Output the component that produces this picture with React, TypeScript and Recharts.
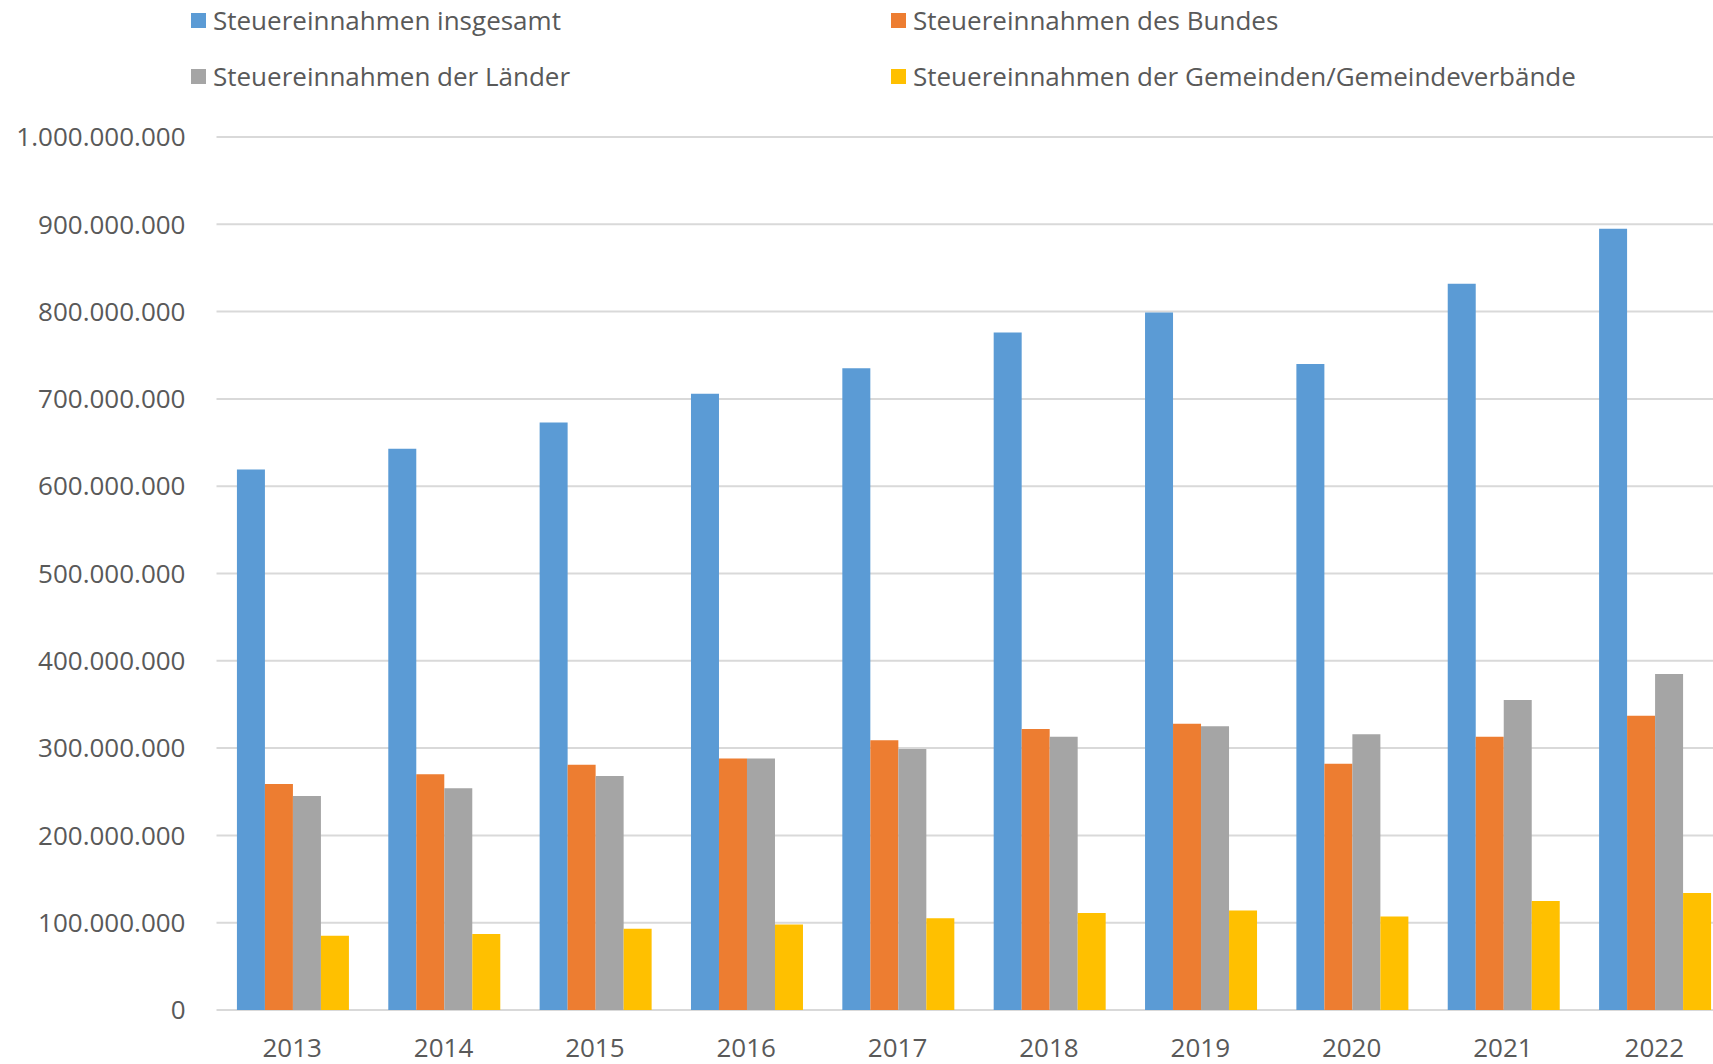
import { BarChart, Bar, XAxis, YAxis, CartesianGrid, Legend } from "recharts";

// Jahre und Steuereinnahmen (in Tsd. Euro)
const years = ["2013", "2014", "2015", "2016", "2017", "2018", "2019", "2020", "2021", "2022"];
const insgesamt = [619e6, 643e6, 673e6, 706e6, 735e6, 776e6, 799e6, 740e6, 832e6, 895e6];
const bund = [259e6, 270e6, 281e6, 288e6, 309e6, 322e6, 328e6, 282e6, 313e6, 337e6];
const laender = [245e6, 254e6, 268e6, 288e6, 299e6, 313e6, 325e6, 316e6, 355e6, 385e6];
const gemeinden = [85e6, 87e6, 93e6, 98e6, 105e6, 111e6, 114e6, 107e6, 125e6, 134e6];
const yTicks = [0, 1e8, 2e8, 3e8, 4e8, 5e8, 6e8, 7e8, 8e8, 9e8, 1e9];

const seriesNames = [
  "Steuereinnahmen insgesamt",
  "Steuereinnahmen des Bundes",
  "Steuereinnahmen der Länder",
  "Steuereinnahmen der Gemeinden/Gemeindeverbände",
];
const seriesColors = ["#5b9bd5", "#ed7d31", "#a5a5a5", "#ffc000"];

const data = years.map((year, i) => ({
  year,
  insgesamt: insgesamt[i],
  bund: bund[i],
  laender: laender[i],
  gemeinden: gemeinden[i],
}));

const FONT = "'Open Sans', sans-serif";
const TEXT = "#595959";

// Tausenderpunkte wie im Original
const formatDe = (v: number) => String(Math.round(v)).replace(/\B(?=(\d{3})+(?!\d))/g, ".");

const renderLegend = (props: any) => {
  // Reihenfolge wie im Original: zeilenweise, 2 Spalten
  const payload = [...(props.payload || [])].sort(
    (a: any, b: any) => seriesNames.indexOf(a.value) - seriesNames.indexOf(b.value)
  );
  return (
    <div style={{ position: "relative", width: 1700, height: 100, fontFamily: FONT, fontSize: 26, color: TEXT }}>
      {payload.map((entry: any, i: number) => (
        <div
          key={`leg-${i}`}
          style={{
            position: "absolute",
            left: 191 + (i % 2) * 700,
            top: 5 + Math.floor(i / 2) * 56,
            height: 30,
            display: "flex",
            alignItems: "center",
            whiteSpace: "nowrap",
          }}>
          <span style={{ width: 15, height: 15, background: entry.color, marginRight: 7, display: "inline-block" }} />
          <span>{entry.value}</span>
        </div>
      ))}
    </div>
  );
};

export default function App() {
  return (
    <div style={{ position: "absolute", left: 0, top: 0, width: 1713, height: 1064, overflow: "hidden", background: "#fff" }}>
      <BarChart
        width={1730}
        height={1064}
        data={data}
        margin={{ top: 37, right: 0, left: 0, bottom: 0 }}
        barCategoryGap="13.5%"
        barGap={0}>
        <CartesianGrid horizontal vertical={false} stroke="#d9d9d9" strokeWidth={2} />
        <XAxis
          dataKey="year"
          height={54}
          axisLine={false}
          tickLine={false}
          tickSize={0}
          tickMargin={29}
          tick={{ fill: TEXT, fontSize: 26, fontFamily: FONT }}
          interval={0}
        />
        <YAxis
          width={216.5}
          domain={[0, 1e9]}
          ticks={yTicks}
          tickFormatter={formatDe}
          axisLine={false}
          tickLine={false}
          tickSize={0}
          tickMargin={31}
          tick={{ fill: TEXT, fontSize: 26, fontFamily: FONT }}
        />
        <Legend
          verticalAlign="top"
          content={renderLegend}
          wrapperStyle={{ top: 0, left: 0, width: 1700, height: 100 }}
        />
        <Bar dataKey="insgesamt" name={seriesNames[0]} fill={seriesColors[0]} isAnimationActive={false} />
        <Bar dataKey="bund" name={seriesNames[1]} fill={seriesColors[1]} isAnimationActive={false} />
        <Bar dataKey="laender" name={seriesNames[2]} fill={seriesColors[2]} isAnimationActive={false} />
        <Bar dataKey="gemeinden" name={seriesNames[3]} fill={seriesColors[3]} isAnimationActive={false} />
      </BarChart>
    </div>
  );
}
